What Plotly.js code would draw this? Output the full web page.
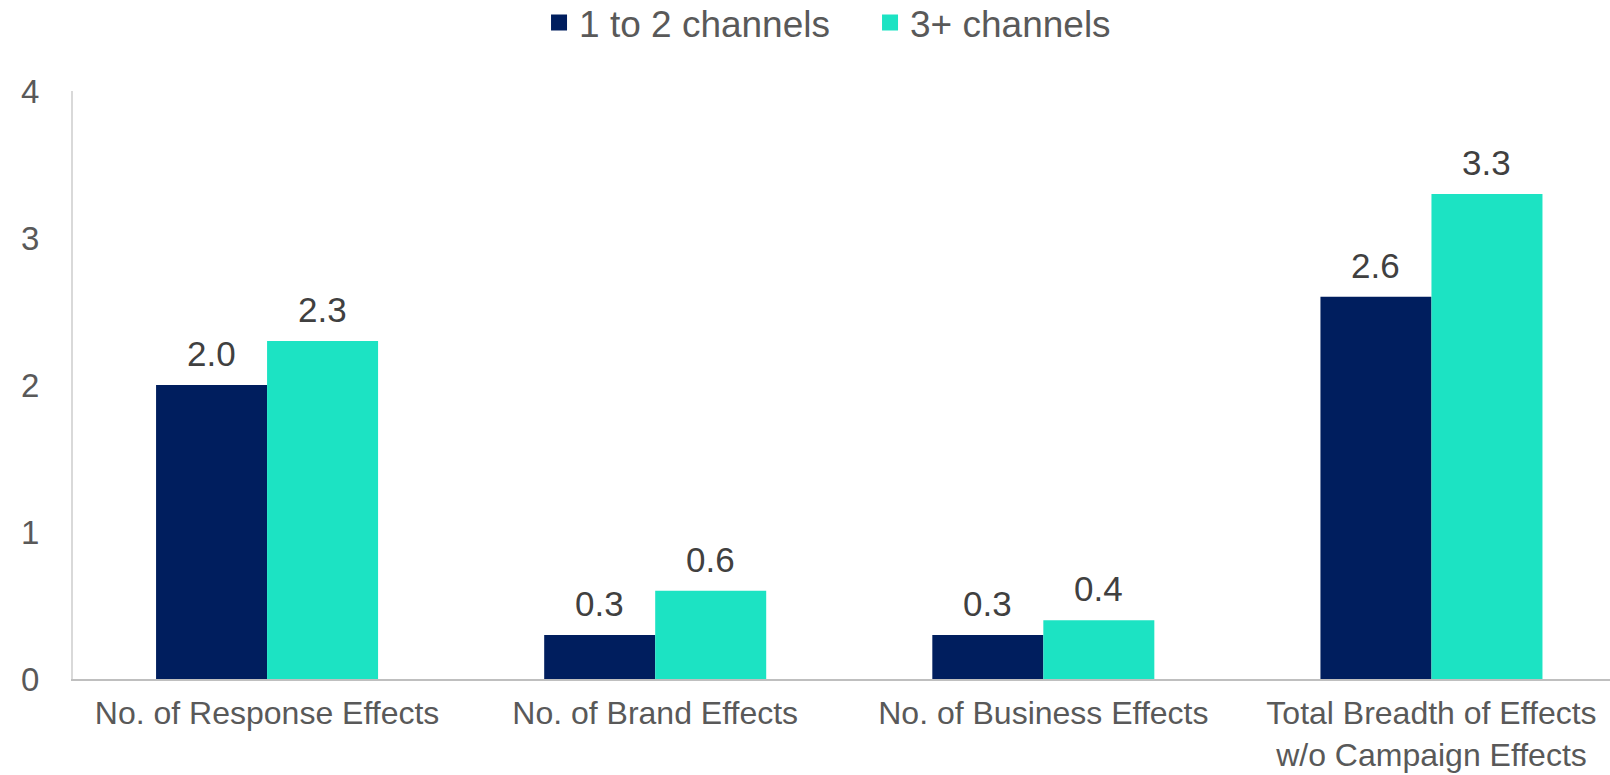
<!DOCTYPE html>
<html>
<head>
<meta charset="utf-8">
<script src="https://cdn.plot.ly/plotly-3.0.1.min.js"></script>
<style>
html,body{margin:0;padding:0;background:#fff;}
#chart{width:1610px;height:775px;}
</style>
</head>
<body>
<div id="chart"></div>
<script>
const categories = ["No. of Response Effects", "No. of Brand Effects", "No. of Business Effects", "Total Breadth of Effects<br>w/o Campaign Effects"];
const seriesNames = ["1 to 2 channels", "3+ channels"];
const values12 = [2.0, 0.3, 0.3, 2.6];
const values3plus = [2.3, 0.6, 0.4, 3.3];
const yTicks = [0, 1, 2, 3, 4];

const colors = ["#001E5E", "#1CE3C3"];
const FONT = "Liberation Sans, Arial, sans-serif";

const seriesValues = [values12, values3plus];
const traces = [];
seriesValues.forEach((vals, s) => {
  traces.push({type: "bar", name: seriesNames[s], x: categories, y: vals, marker: {color: colors[s]},
               hoverinfo: "none", showlegend: false, legendgroup: "g" + s});
});
// legend-only entries with larger square symbols
seriesValues.forEach((vals, s) => {
  traces.push({type: "scatter", mode: "markers", name: seriesNames[s], x: [null], y: [null],
               marker: {symbol: "square", size: 16, color: colors[s]}, hoverinfo: "none",
               showlegend: true, legendgroup: "g" + s});
});

const barOffset = 0.143;
const annotations = [];
seriesValues.forEach((vals, s) => {
  vals.forEach((v, i) => {
    annotations.push({
      x: i + (s === 0 ? -barOffset : barOffset), y: v, xref: "x", yref: "y",
      text: v.toFixed(1), showarrow: false, yanchor: "bottom", yshift: 10,
      font: {family: FONT, size: 35, color: "#404040"}
    });
  });
});

const layout = {
  width: 1610, height: 775,
  margin: {l: 73, r: 0, t: 91, b: 96},
  paper_bgcolor: "#fff", plot_bgcolor: "#fff",
  barmode: "group", bargap: 0.428, bargroupgap: 0,
  showlegend: true,
  legend: {orientation: "h", xref: "container", yref: "container", x: 0.3348, xanchor: "left", y: 0.9705, yanchor: "middle",
           font: {family: FONT, size: 37, color: "#595959"}, itemwidth: 30, traceorder: "normal",
           entrywidth: 286, entrywidthmode: "pixels"},
  xaxis: {type: "category", range: [-0.5, 3.46], showline: true, linecolor: "#BFBFBF", linewidth: 2,
          ticks: "outside", ticklen: 5, tickcolor: "rgba(0,0,0,0)", showgrid: false, zeroline: false,
          tickfont: {family: FONT, size: 32, color: "#595959"}, fixedrange: true},
  yaxis: {range: [0, 4], tickvals: yTicks, showline: true, linecolor: "#D9D9D9", linewidth: 2,
          ticks: "outside", ticklen: 25, tickcolor: "rgba(0,0,0,0)", showgrid: false, zeroline: false,
          tickfont: {family: FONT, size: 33, color: "#595959"}, fixedrange: true},
  annotations: annotations
};

Plotly.newPlot("chart", traces, layout, {displayModeBar: false, staticPlot: true});
</script>
</body>
</html>
